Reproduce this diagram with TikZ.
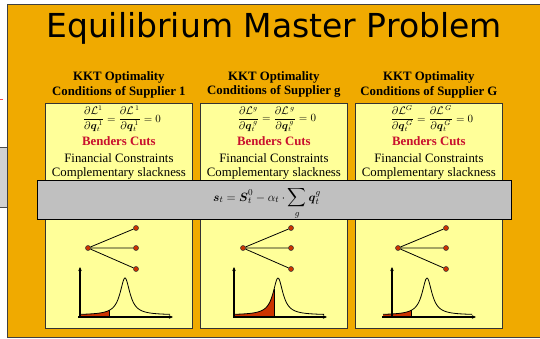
\documentclass[tikz,border=0pt]{standalone}
\usepackage{amsmath,amssymb}
\usepackage{fontspec}
\setmainfont{Liberation Serif}
\newfontfamily\titlefont{DejaVu Sans}
\usetikzlibrary{arrows.meta,positioning,calc}

\definecolor{masterorange}{RGB}{240,170,0}
\definecolor{boxyellow}{RGB}{255,255,153}
\definecolor{bandgray}{RGB}{192,192,192}
\definecolor{cutred}{RGB}{200,16,46}
\definecolor{dotred}{RGB}{204,51,0}

\tikzset{
  supbox/.style={draw=black!80, fill=boxyellow, line width=0.8pt, minimum width=147, minimum height=225, inner sep=0},
  band/.style={draw=black, fill=bandgray, line width=0.8pt, minimum width=474, minimum height=39, inner sep=0},
  headtxt/.style={font=\fontsize{12.8}{14.3}\selectfont\bfseries, align=center, inner sep=0},
  txt/.style={font=\fontsize{12.8}{14}\selectfont, inner sep=0, anchor=base},
  dot/.style={circle, draw=black!80, fill=dotred, inner sep=0, minimum size=5pt, line width=0.5pt},
  axisarrow/.style={-{Stealth[length=4pt,width=3.5pt]}, line width=1.2pt},
}

\begin{document}
\begin{tikzpicture}[x=1pt, y=-1pt, >=Stealth]
\useasboundingbox (0,0) rectangle (540,339);
% pieces of the neighbouring slide content
\draw[fill=black!18, draw=black!70] (-5,147) rectangle (7,207);
\draw[red!70, line width=0.8pt] (0,99) -- (3,99);
% master frame
\fill[masterorange] (7,4) rectangle (541,337);
\draw[black!75, line width=0.8pt] (541,4) -- (7,4) -- (7,337) -- (541,337);
\node[font=\titlefont\fontsize{33}{36}\selectfont, anchor=base, inner sep=0] (title) at (274,38) {Equilibrium Master Problem};

\foreach \n/\lx/\va/\hs/\he/\ce/\pk/\fs/\fe in {1/45/80/78/173/170/125/80/109, g/200/234/233/327/324/278/234/274, G/355/392/382/476/472/427/383/411}{
  \node[supbox, anchor=north west] (box\n) at (\lx,103) {};
  \node[headtxt, above=5pt of box\n] (head\n) {KKT Optimality\\Conditions of Supplier \n};
  \node[inner sep=0, font=\fontsize{10.5}{12}\selectfont] (kkt\n) at ($(box\n.north)+(3,16)$)
    {$\displaystyle\frac{\partial\mathcal{L}^{\n}}{\partial\boldsymbol{q}_t^{\,\n}}=\frac{\partial\mathcal{L}^{\,\n}}{\partial\boldsymbol{q}_t^{\,\n}}=0$};
  \node[txt, text=cutred, font=\fontsize{12.8}{14}\selectfont\bfseries] (cuts\n) at ($(box\n.north)+(0,43)$) {Benders Cuts};
  \node[txt] (fin\n) at ($(box\n.north)+(0,59)$) {Financial Constraints};
  \node[txt] (comp\n) at ($(box\n.north)+(0,73)$) {Complementary slackness};
  % scenario tree
  \node[dot] (root\n) at ({\lx+43},248) {};
  \node[dot] (up\n) at ({\lx+91},228) {};
  \node[dot] (mid\n) at ({\lx+91},248) {};
  \node[dot] (low\n) at ({\lx+91},269) {};
  \draw[line width=0.8pt] (root\n) -- (up\n) (root\n) -- (mid\n) (root\n) -- (low\n);
  % distribution with shaded tail
  \fill[dotred] (\fs,317) -- plot[domain=\fs:\fe, samples=40] (\x,{315-37/(1+((\x-\pk)/6)^2)}) -- (\fe,317) -- cycle;
  \draw[line width=0.8pt] plot[domain=\fs:\ce, samples=120] (\x,{315-37/(1+((\x-\pk)/6)^2)});
  \draw[line width=0.8pt] (\fe,317) -- (\fe,{315-37/(1+((\fe-\pk)/6)^2)});
  \coordinate (o\n) at (\va,317);
  \draw[axisarrow] (o\n) -- ++(0,-50);
  \draw[axisarrow] (\hs,317) -- (\he,317);
}

\node[band] (link) at (274,199.5) {};
\node[inner sep=0, anchor=base, font=\fontsize{13}{15}\selectfont] (balance) at (267,201)
  {$\displaystyle\boldsymbol{s}_t=\boldsymbol{S}_t^{0}-\alpha_t\cdot\sum_{g}\boldsymbol{q}_t^{g}$};
\end{tikzpicture}
\end{document}
